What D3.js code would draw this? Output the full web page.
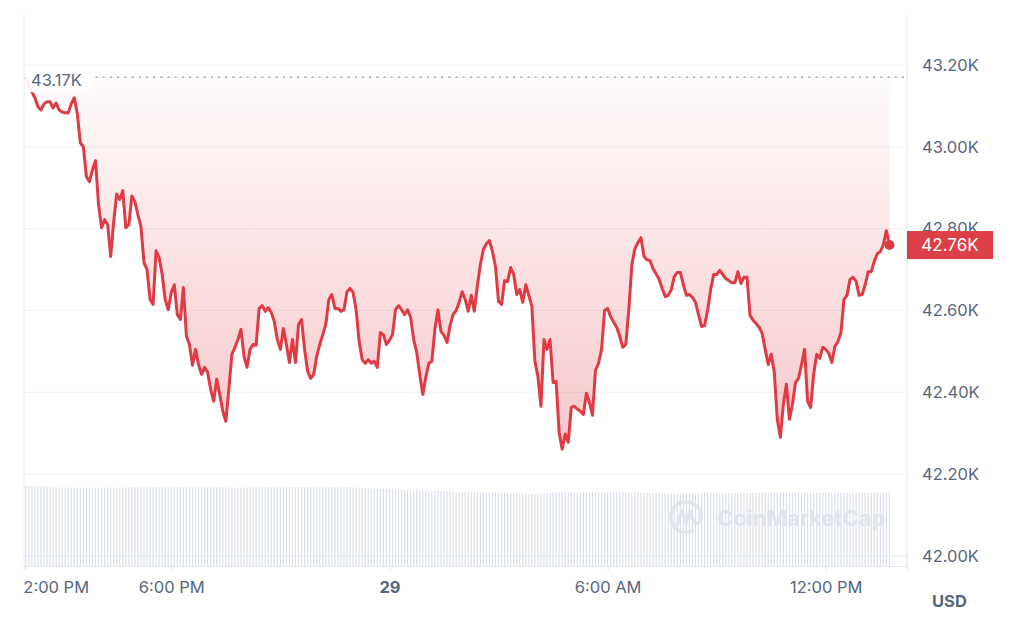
<!DOCTYPE html>
<html>
<head>
<meta charset="utf-8">
<script src="https://cdn.jsdelivr.net/npm/d3@7/dist/d3.min.js"></script>
<style>
  body { margin: 0; background: #fff; }
  svg text { font-family: Inter, "Noto Sans", sans-serif; }
</style>
</head>
<body>
<svg></svg>
<script>
// BTC 1D price chart with volume bars
// Data (5 minute candles, USD)
const START_TIME = new Date(2023, 11, 28, 14, 0);
const STEP_MINUTES = 5;
const OPEN_PRICE = 43170;

const prices = [
  43170,43151,43134,43120,43098,43090,43105,43110,43110,43095,
  43107,43090,43085,43083,43083,43105,43120,43080,43010,43000,
  42927,42915,42944,42966,42859,42802,42822,42810,42732,42817,
  42885,42871,42893,42802,42810,42880,42866,42834,42805,42717,
  42700,42627,42615,42746,42729,42688,42627,42602,42644,42663,
  42590,42578,42656,42537,42517,42466,42505,42468,42444,42461,
  42449,42407,42378,42432,42395,42354,42329,42407,42493,42510,
  42529,42554,42488,42461,42505,42517,42515,42605,42612,42598,
  42607,42595,42573,42529,42505,42556,42517,42473,42529,42473,
  42566,42578,42505,42451,42434,42444,42488,42517,42541,42566,
  42627,42639,42605,42605,42598,42602,42646,42654,42644,42602,
  42524,42480,42471,42480,42471,42476,42461,42546,42541,42517,
  42527,42541,42602,42612,42602,42590,42602,42583,42529,42498,
  42444,42395,42437,42471,42476,42554,42602,42549,42539,42522,
  42563,42590,42600,42620,42646,42627,42598,42637,42598,42659,
  42712,42749,42763,42771,42744,42707,42622,42615,42673,42671,
  42705,42688,42639,42651,42620,42663,42637,42610,42476,42439,
  42366,42529,42505,42529,42424,42427,42302,42261,42298,42278,
  42363,42366,42359,42354,42346,42398,42376,42344,42454,42471,
  42505,42600,42605,42585,42571,42559,42537,42510,42517,42602,
  42712,42751,42766,42778,42732,42724,42722,42702,42690,42676,
  42654,42634,42637,42651,42683,42693,42693,42663,42637,42639,
  42632,42620,42590,42561,42563,42600,42651,42688,42688,42698,
  42688,42678,42673,42668,42668,42695,42666,42681,42681,42588,
  42576,42568,42559,42544,42505,42468,42493,42449,42334,42290,
  42371,42420,42334,42371,42424,42434,42468,42505,42378,42363,
  42444,42493,42483,42510,42505,42495,42473,42512,42524,42546,
  42627,42637,42676,42681,42671,42637,42639,42663,42695,42695,
  42720,42739,42744,42761,42795,42760
];

// 24h volume, billions USD
const volumes = [
  24.0,24.0,24.0,24.0,23.9,23.9,23.9,23.7,23.6,23.6,
  23.6,23.5,23.5,23.5,23.5,23.5,23.5,23.5,23.5,23.5,
  23.5,23.5,23.4,23.4,23.5,23.5,23.5,23.5,23.5,23.5,
  23.5,23.5,23.5,23.6,23.6,23.6,23.6,23.6,23.6,23.6,
  23.6,23.6,23.6,23.6,23.6,23.6,23.6,23.6,23.6,23.6,
  23.6,23.6,23.6,23.6,23.6,23.6,23.6,23.6,23.6,23.6,
  23.6,23.6,23.6,23.6,23.6,23.6,23.6,23.5,23.5,23.5,
  23.5,23.5,23.5,23.5,23.6,23.6,23.6,23.6,23.6,23.6,
  23.6,23.6,23.6,23.6,23.6,23.6,23.6,23.6,23.6,23.7,
  23.7,23.7,23.6,23.6,23.6,23.6,23.6,23.6,23.6,23.6,
  23.6,23.6,23.6,23.6,23.6,23.7,23.7,23.6,23.5,23.5,
  23.5,23.4,23.4,23.3,23.3,23.2,23.2,23.1,23.1,23.1,
  23.0,23.0,22.9,22.9,22.9,22.9,22.8,22.8,22.8,22.8,
  22.7,22.7,22.7,22.7,22.6,22.6,22.5,22.5,22.4,22.4,
  22.4,22.3,22.3,22.3,22.3,22.2,22.2,22.2,22.2,22.1,
  22.1,22.1,22.0,22.0,22.0,21.9,21.9,21.9,21.8,21.8,
  21.8,21.8,21.7,21.7,21.7,21.7,21.6,21.6,21.6,21.7,
  21.7,21.8,21.9,22.0,22.0,22.1,22.1,22.2,22.2,22.2,
  22.2,22.2,22.2,22.2,22.3,22.3,22.3,22.3,22.3,22.2,
  22.2,22.2,22.2,22.2,22.2,22.2,22.2,22.2,22.1,22.1,
  22.1,22.1,22.1,22.0,22.0,22.0,21.9,21.9,21.8,21.8,
  21.8,21.7,21.7,21.7,21.6,21.6,21.6,21.6,21.6,21.6,
  21.7,21.7,21.7,21.8,21.8,21.9,21.9,21.9,21.9,21.9,
  21.9,21.9,21.9,21.9,21.9,21.9,21.9,21.9,21.9,22.0,
  22.0,22.0,22.0,22.0,22.0,22.0,22.0,22.0,22.0,22.0,
  22.0,22.0,22.0,22.0,22.0,22.0,22.0,22.0,22.0,22.0,
  22.0,22.0,22.0,22.0,22.0,22.0,22.0,22.0,22.0,22.0,
  22.0,22.0,22.0,22.0,22.0,22.0,22.0,22.0,22.0,22.0,
  22.0,22.0,22.0,22.0,22.0,22.0
];

const yTickValues = [42000, 42200, 42400, 42600, 42800, 43000, 43200];
const xTickTimes = [
  new Date(2023, 11, 28, 14, 0),
  new Date(2023, 11, 28, 18, 0),
  new Date(2023, 11, 29, 0, 0),
  new Date(2023, 11, 29, 6, 0),
  new Date(2023, 11, 29, 12, 0)
];
const xTickLabels = ['2:00 PM', '6:00 PM', '29', '6:00 AM', '12:00 PM'];

//General constants
const SVG = d3.select('svg');
const SVG_WIDTH = 1024;
const SVG_HEIGHT = 631;
const PLOT_LEFT = 24;
const PLOT_RIGHT = 907;
const PLOT_TOP = 15;
const PLOT_BOTTOM = 566;
const RED = '#e03b44';
const GREY_TEXT = '#58667e';
const GRID = '#eff2f5';
const FONT_SIZE = '16.5px';

SVG.attr('width', SVG_WIDTH).attr('height', SVG_HEIGHT);

const series = prices.map((p, i) => ({
  time: new Date(START_TIME.getTime() + i * STEP_MINUTES * 60000),
  price: p,
  volume: volumes[i]
}));

//Scales
var xScale = d3.scaleTime()
  .domain([new Date(2023, 11, 28, 13, 57), new Date(2023, 11, 29, 14, 14)])
  .range([PLOT_LEFT, PLOT_RIGHT]);
var yScale = d3.scaleLinear().domain([42000, 43200]).range([556, 65]);
var volScale = d3.scaleLinear().domain([0, 24]).range([0, 80]);

//Gradient for the area
const defs = SVG.append('defs');
const grad = defs.append('linearGradient')
  .attr('id', 'areaFill')
  .attr('gradientUnits', 'userSpaceOnUse')
  .attr('x1', 0).attr('x2', 0)
  .attr('y1', yScale(OPEN_PRICE)).attr('y2', yScale(42260));
grad.append('stop').attr('offset', '0%').attr('stop-color', RED).attr('stop-opacity', 0.02);
grad.append('stop').attr('offset', '100%').attr('stop-color', RED).attr('stop-opacity', 0.28);

//Grid
SVG.append('g')
  .selectAll('line')
  .data(yTickValues)
  .enter()
  .append('line')
    .attr('x1', PLOT_LEFT).attr('x2', PLOT_RIGHT)
    .attr('y1', d => yScale(d)).attr('y2', d => yScale(d))
    .attr('stroke', GRID).attr('stroke-width', 1);

SVG.append('line').attr('x1', PLOT_LEFT).attr('x2', PLOT_LEFT)
  .attr('y1', PLOT_TOP).attr('y2', PLOT_BOTTOM)
  .attr('stroke', GRID).attr('stroke-width', 1.2);
SVG.append('line').attr('x1', PLOT_RIGHT).attr('x2', PLOT_RIGHT)
  .attr('y1', PLOT_TOP).attr('y2', PLOT_BOTTOM)
  .attr('stroke', '#e6e9ef').attr('stroke-width', 1.2);

//Volume bars
SVG.append('g')
  .selectAll('rect')
  .data(series)
  .enter()
  .append('rect')
    .attr('x', d => xScale(d.time) - 0.6)
    .attr('y', d => PLOT_BOTTOM - volScale(d.volume))
    .attr('width', 1.2)
    .attr('height', d => volScale(d.volume))
    .attr('fill', '#dce0eb');

// 42.00K grid line sits over the bars
SVG.append('line').attr('x1', PLOT_LEFT).attr('x2', PLOT_RIGHT)
  .attr('y1', yScale(42000)).attr('y2', yScale(42000))
  .attr('stroke', '#e8ebf1').attr('stroke-width', 1);

//Watermark
const wm = SVG.append('g').attr('transform', 'translate(686, 517)').attr('opacity', 0.9);
wm.append('path')
  .attr('d', d3.arc()({ innerRadius: 13.5, outerRadius: 17, startAngle: 2.6, endAngle: 2.6 + 2 * Math.PI - 0.7 }))
  .attr('fill', '#e1e4ec');
wm.append('path')
  .attr('d', 'M-9,8 L-4,-6 L0,6 L4,-6 L7,3 Q9,8 13,6')
  .attr('fill', 'none').attr('stroke', '#e1e4ec').attr('stroke-width', 3.4)
  .attr('stroke-linejoin', 'round').attr('stroke-linecap', 'round');
SVG.append('text').attr('x', 717).attr('y', 526)
  .style('font-size', '22px').style('font-weight', 700)
  .attr('fill', '#e1e4ec')
  .text('CoinMarketCap');

//Area and line
SVG.append('path')
  .datum(series)
  .attr('d', d3.area()
    .x(d => xScale(d.time))
    .y0(yScale(OPEN_PRICE))
    .y1(d => yScale(d.price)))
  .attr('fill', 'url(#areaFill)');

SVG.append('path')
  .datum(series)
  .attr('d', d3.line().x(d => xScale(d.time)).y(d => yScale(d.price)))
  .attr('fill', 'none')
  .attr('stroke', RED)
  .attr('stroke-width', 3)
  .attr('stroke-linejoin', 'round');

//Opening price reference
SVG.append('line')
  .attr('x1', 96).attr('x2', PLOT_RIGHT)
  .attr('y1', yScale(OPEN_PRICE)).attr('y2', yScale(OPEN_PRICE))
  .attr('stroke', '#a1a7bb').attr('stroke-width', 1.5)
  .attr('stroke-dasharray', '1.2 6').attr('stroke-linecap', 'round');
SVG.append('rect').attr('x', PLOT_LEFT + 1).attr('y', yScale(OPEN_PRICE) - 11)
  .attr('width', 68).attr('height', 26).attr('rx', 3)
  .attr('fill', '#ffffff').attr('fill-opacity', 0.92);
SVG.append('text').attr('x', 31).attr('y', yScale(OPEN_PRICE) + 3)
  .attr('dy', '0.35em')
  .style('font-size', FONT_SIZE)
  .attr('fill', GREY_TEXT)
  .text(d3.format('.2f')(OPEN_PRICE / 1000) + 'K');

//Axes
var yAxis = d3.axisRight(yScale)
  .tickValues(yTickValues)
  .tickSize(0)
  .tickPadding(15)
  .tickFormat(d => d3.format('.2f')(d / 1000) + 'K');
SVG.append('g').attr('transform', `translate(${PLOT_RIGHT}, 0)`).call(yAxis)
  .call(g => g.select('.domain').remove())
  .call(g => g.selectAll('text').style('font-size', FONT_SIZE).attr('fill', GREY_TEXT));

var xAxis = d3.axisBottom(xScale)
  .tickValues(xTickTimes)
  .tickSize(4)
  .tickPadding(11)
  .tickFormat((d, i) => xTickLabels[i]);
SVG.append('g').attr('transform', `translate(0, ${PLOT_BOTTOM})`).call(xAxis)
  .call(g => g.select('.domain').attr('stroke', '#e6e9ef').attr('stroke-width', 1.2))
  .call(g => g.selectAll('.tick line').attr('stroke', '#dfe3ea'))
  .call(g => g.selectAll('text').style('font-size', FONT_SIZE).attr('fill', GREY_TEXT))
  .call(g => g.selectAll('text').filter((d, i) => i === 0).attr('text-anchor', 'start').attr('x', -3))
  .call(g => g.selectAll('text').filter((d, i) => i === 2).style('font-weight', 700));

SVG.append('text').attr('x', 932).attr('y', 607)
  .style('font-size', FONT_SIZE).style('font-weight', 700)
  .attr('fill', GREY_TEXT)
  .text('USD');

//Current price marker
const last = series[series.length - 1];
SVG.append('circle')
  .attr('cx', xScale(last.time)).attr('cy', yScale(last.price))
  .attr('r', 5).attr('fill', RED);
SVG.append('rect')
  .attr('x', PLOT_RIGHT).attr('y', yScale(last.price) - 14)
  .attr('width', 86).attr('height', 28)
  .attr('fill', '#dc3f46');
SVG.append('text')
  .attr('x', PLOT_RIGHT + 43).attr('y', yScale(last.price))
  .attr('dy', '0.35em')
  .style('text-anchor', 'middle')
  .style('font-size', '17px')
  .attr('fill', '#ffffff')
  .text(d3.format('.2f')(last.price / 1000) + 'K');
</script>
</body>
</html>
